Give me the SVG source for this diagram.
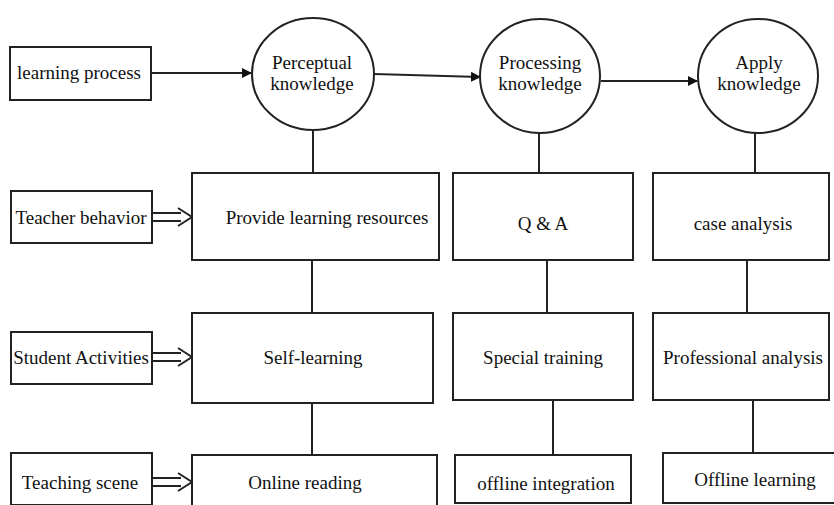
<svg xmlns="http://www.w3.org/2000/svg" width="834" height="505" viewBox="0 0 834 505">
<style>
.b{fill:#fff;stroke:#222;stroke-width:2}
.l{fill:none;stroke:#222;stroke-width:2}
.t{font-family:"Liberation Serif","Times New Roman",serif;font-size:19px;fill:#111;text-anchor:middle}
</style>
<defs>
<marker id="ah" markerWidth="10" markerHeight="10" refX="9" refY="5" orient="auto" markerUnits="userSpaceOnUse" viewBox="0 0 10 10">
<path d="M0,0 L10,5 L0,10 z" fill="#111"/>
</marker>
</defs>
<rect width="834" height="505" fill="#fff"/>
<g id="connectors">
<line class="l" x1="151" y1="73" x2="251" y2="73" marker-end="url(#ah)"/>
<path class="l" d="M374,74 L480,77" marker-end="url(#ah)"/>
<line class="l" x1="601" y1="81" x2="697" y2="81" marker-end="url(#ah)"/>
<line class="l" x1="313" y1="130" x2="313" y2="173"/>
<line class="l" x1="539" y1="133" x2="539" y2="173"/>
<line class="l" x1="755" y1="133" x2="755" y2="173"/>
<line class="l" x1="312" y1="260" x2="312" y2="313"/>
<line class="l" x1="547" y1="260" x2="547" y2="313"/>
<line class="l" x1="747" y1="260" x2="747" y2="313"/>
<line class="l" x1="312" y1="403" x2="312" y2="455"/>
<line class="l" x1="553" y1="400" x2="553" y2="455"/>
<line class="l" x1="753" y1="400" x2="753" y2="453"/>
<path class="l" d="M152,213 H181 M152,221 H181 M178,208 L192,217 L178,226"/>
<path class="l" d="M152,353 H181 M152,361 H181 M178,348 L192,357 L178,366"/>
<path class="l" d="M152,478 H181 M152,486 H181 M178,473 L192,482 L178,491"/>
</g>
<g id="n-learning-process"><rect class="b" x="10" y="47" width="141" height="53"/><text class="t" x="79" y="79">learning process</text></g>
<g id="n-perceptual"><ellipse class="b" cx="313" cy="74" rx="61" ry="56"/><text class="t" x="312" y="69">Perceptual</text><text class="t" x="312" y="90">knowledge</text></g>
<g id="n-processing"><ellipse class="b" cx="540" cy="76" rx="60" ry="57"/><text class="t" x="540" y="69">Processing</text><text class="t" x="540" y="90">knowledge</text></g>
<g id="n-apply"><ellipse class="b" cx="758" cy="76" rx="60" ry="57"/><text class="t" x="759" y="69">Apply</text><text class="t" x="759" y="90">knowledge</text></g>
<g id="n-teacher"><rect class="b" x="11" y="191" width="141" height="52"/><text class="t" x="81" y="224">Teacher behavior</text></g>
<g id="n-student"><rect class="b" x="11" y="332" width="141" height="52"/><text class="t" x="81" y="364">Student Activities</text></g>
<g id="n-scene"><rect class="b" x="11" y="453" width="141" height="52"/><text class="t" x="80" y="489">Teaching scene</text></g>
<g id="n-provide"><rect class="b" x="192" y="173" width="247" height="87"/><text class="t" x="327" y="224">Provide learning resources</text></g>
<g id="n-qa"><rect class="b" x="453" y="173" width="180" height="87"/><text class="t" x="543" y="230">Q &amp; A</text></g>
<g id="n-case"><rect class="b" x="653" y="173" width="176" height="87"/><text class="t" x="743" y="230">case analysis</text></g>
<g id="n-self"><rect class="b" x="192" y="313" width="241" height="90"/><text class="t" x="313" y="364">Self-learning</text></g>
<g id="n-special"><rect class="b" x="453" y="313" width="180" height="87"/><text class="t" x="543" y="364">Special training</text></g>
<g id="n-prof"><rect class="b" x="653" y="313" width="176" height="87"/><text class="t" x="743" y="364">Professional analysis</text></g>
<g id="n-online"><rect class="b" x="192" y="455" width="245" height="52"/><text class="t" x="305" y="489">Online reading</text></g>
<g id="n-offline-int"><rect class="b" x="455" y="455" width="176" height="48"/><text class="t" x="546" y="490">offline integration</text></g>
<g id="n-offline-learn"><rect class="b" x="663" y="453" width="180" height="50"/><text class="t" x="755" y="486">Offline learning</text></g>
</svg>
